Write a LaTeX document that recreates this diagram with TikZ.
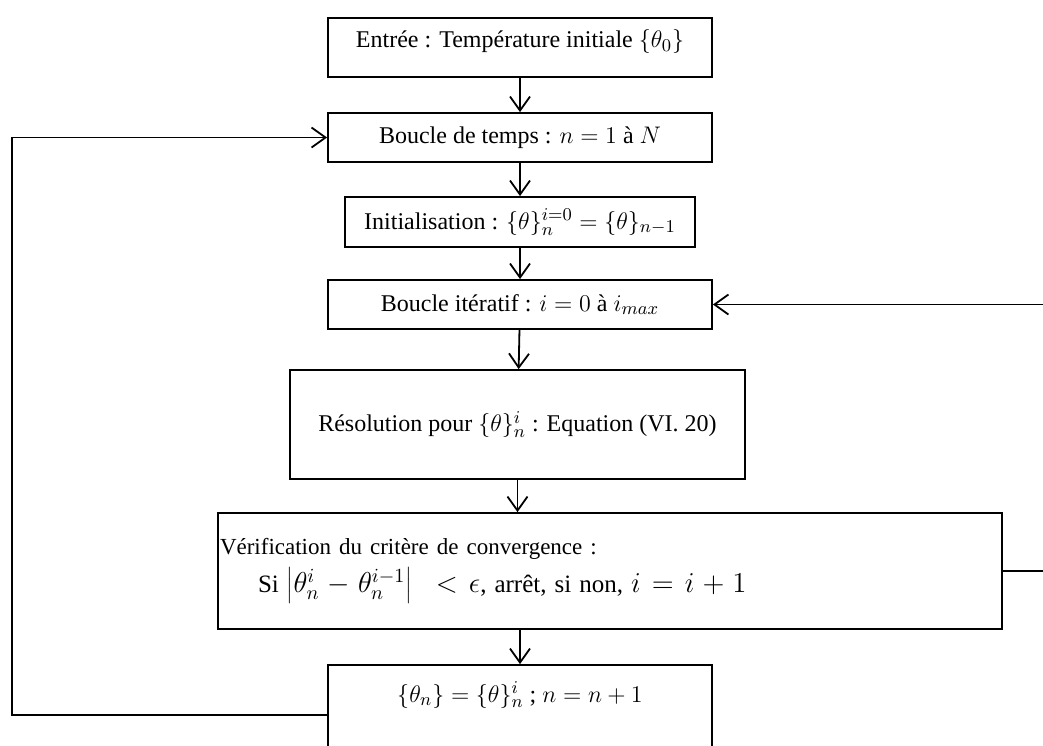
\documentclass[tikz,border=0pt]{standalone}
\usepackage{fontspec}
\setmainfont{Liberation Serif}
\DeclareMathSizes{12}{13}{9.5}{7.5}
\DeclareMathSizes{12.5}{13.5}{10}{8}
\usetikzlibrary{arrows.meta}
\begin{document}
\begin{tikzpicture}[x=0.5pt,y=-0.5pt,line width=0.9pt,>={Straight Barb[length=7pt,width=10pt]},
  bloc/.style={draw,inner sep=0pt,font=\fontsize{12}{14}\selectfont,minimum width=#1},bloc/.default=192pt]
\useasboundingbox (0,0) rectangle (1043,745);
\clip (0,0) rectangle (1043,745);
\node[bloc,minimum height=29.5pt,text height=11pt,text depth=11pt](entree)at(520,47.5){Entrée : Température initiale $\{\theta_0\}$};
\node[bloc,minimum height=24.5pt](temps)at(520,137.5){Boucle de temps : $n=1$ à $N$};
\node[bloc=175pt,minimum height=25pt](init)at(520,222){Initialisation : $\{\theta\}_n^{i=0}=\{\theta\}_{n-1}$};
\node[bloc,minimum height=24.5pt](iter)at(520,304.5){Boucle itératif : $i=0$ à $i_{max}$};
\node[bloc=227.5pt,minimum height=54.5pt](resol)at(517.5,424.5){Résolution pour $\{\theta\}_n^i$ : Equation (VI. 20)};
\node[bloc=392pt,minimum height=58pt,text width=390pt,align=left](verif)at(610,571){{\fontsize{11.5}{14}\selectfont Vérification du critère de convergence :}\\[3pt]
  \hspace*{19pt}{\fontsize{12.5}{15}\selectfont\medmuskip=5mu\thickmuskip=7mu Si $\left|\theta_n^i-\theta_n^{i-1}\right|\enspace<\epsilon$, arrêt, si non, $i=i+1$}};
\node[bloc,minimum height=50pt,text height=12.5pt,text depth=25.5pt](maj)at(520,715){$\{\theta_n\}=\{\theta\}_n^i$ ; $n=n+1$};
\coordinate(gauche)at(12,0);\coordinate(droite)at(1060,0);
\foreach \a/\b in {entree/temps,temps/init,init/iter,iter/resol}\draw[->](\a)--(\b);
\draw[->](resol.south)--(resol.south|-verif.north);
\draw[->](maj.north|-verif.south)--(maj.north);
\draw[->](maj.west)--(maj.west-|gauche)--(temps.west-|gauche)--(temps.west);
\draw[->](verif.east)--(verif.east-|droite)--(iter.east-|droite)--(iter.east);
\end{tikzpicture}
\end{document}
